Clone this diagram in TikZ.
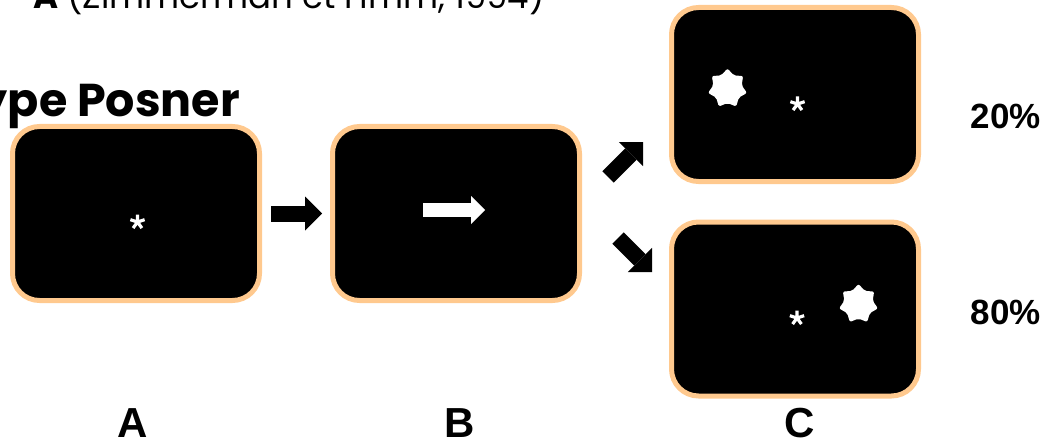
\documentclass[tikz,border=0pt]{standalone}
\usepackage{fontspec}
\setmainfont{Poppins}
\newfontfamily\labelfont{Liberation Sans}
\usetikzlibrary{arrows.meta}
\definecolor{peach}{HTML}{FFC98E}

\tikzset{
  screen/.style={draw=peach, line width=5, fill=black, rounded corners=27,
    minimum width=247, minimum height=174, inner sep=0, outer sep=2.5},
  blockarrow/.style={draw=black, line width=16,
    -{Triangle[length=17,width=34,line width=0pt]}},
  cuearrow/.style={draw=white, line width=14,
    -{Triangle[length=14,width=28,line width=0pt]}},
  letter/.style={font=\labelfont\bfseries\fontsize{42}{42}\selectfont, inner sep=0},
  percent/.style={font=\labelfont\bfseries\fontsize{35}{35}\selectfont, inner sep=0},
  pics/sevenstar/.style={code={
    \fill[white, rounded corners=2]
      (-90:20) -- (-64.29:14.5) -- (-38.57:20) -- (-12.86:14.5) -- (12.86:20)
      -- (38.57:14.5) -- (64.29:20) -- (90:14.5) -- (115.71:20) -- (141.43:14.5)
      -- (167.14:20) -- (192.86:14.5) -- (218.57:20) -- (244.29:14.5) -- cycle;
  }},
  pics/fixation/.style={code={
    \draw[white, line width=3.2]
      (0,0) -- (-90:7.5) (0,0) -- (-18:7.5) (0,0) -- (54:7.5)
      (0,0) -- (126:7.5) (0,0) -- (198:7.5);
  }}
}

\begin{document}
\begin{tikzpicture}[x=1pt, y=-1pt]
\useasboundingbox (0,0) rectangle (1049,441);

% headings
\node[anchor=base east, inner sep=0, font=\fontsize{34}{34}\selectfont]
  (title) at (545,9) {\textbf{A} (Zimmerman et Hmm, 1994)};
\node[anchor=base east, inner sep=0, font=\bfseries\fontsize{46}{46}\selectfont]
  (subtitle) at (240,117) {ype Posner};

% the screens
\node[screen] (A) at (136,213.5) {};
\node[screen] (B) at (456,213.5) {};
\node[screen] (C1) at (795,94.5) {};
\node[screen] (C2) at (795,309) {};

% screen contents
\pic at (137.5,222) {fixation};
\draw[cuearrow] ([shift={(-33,-3.5)}]B.center) -- ([shift={(29,-3.5)}]B.center);
\pic at (727.5,88.5) {sevenstar};
\pic at (797.5,104) {fixation};
\pic at (797,318) {fixation};
\pic at (858.5,304) {sevenstar};

% transitions
\coordinate (upTail) at (608,177);
\coordinate (upTip) at (643,142);
\coordinate (downTail) at (618,238);
\coordinate (downTip) at (652,272);
\draw[blockarrow] ([xshift=9]A.east) -- ([xshift=-8]B.west);
\draw[blockarrow] (upTail) -- (upTip);
\draw[blockarrow] (downTail) -- (downTip);

% labels
\node[letter] (labA) at (133,423) {A};
\node[letter] (labB) at (460,423) {B};
\node[letter] (labC) at (800,423) {C};
\node[percent] (p20) at (1006,116) {20\%};
\node[percent] (p80) at (1006,312) {80\%};
\end{tikzpicture}
\end{document}
